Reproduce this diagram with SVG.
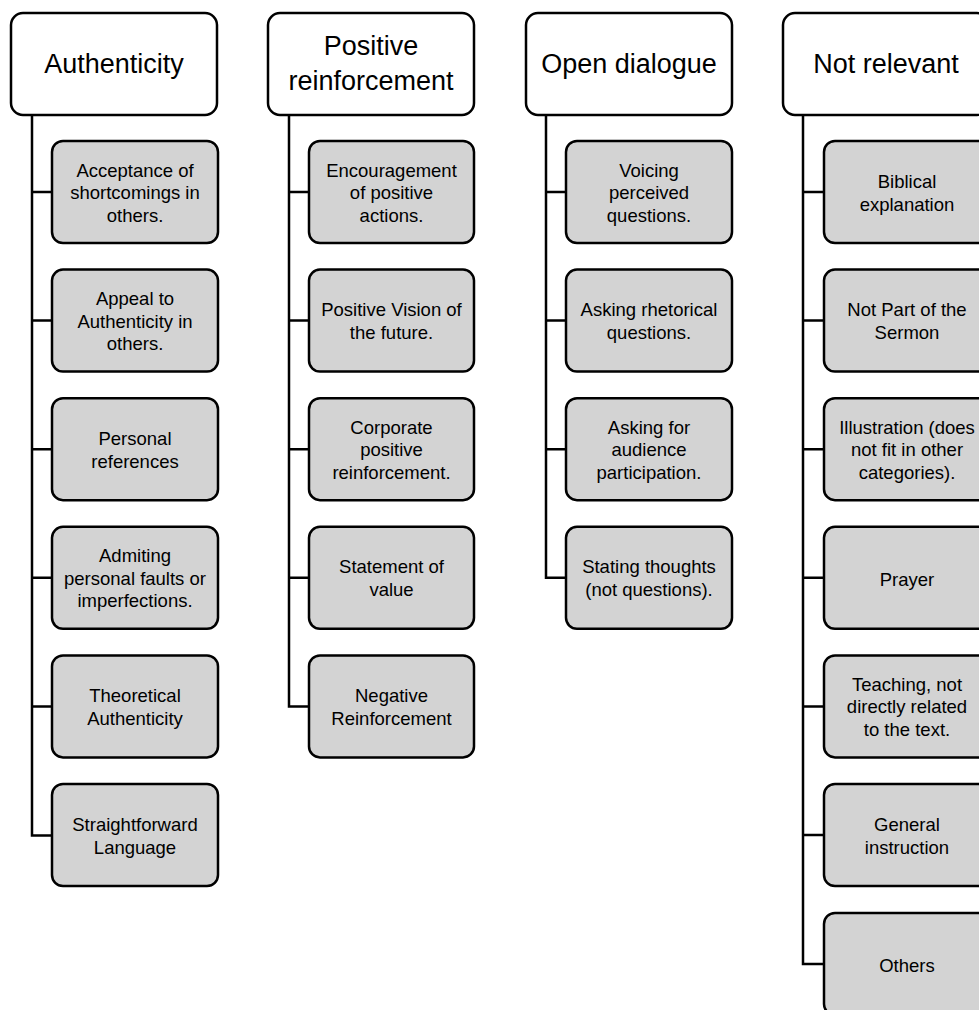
<svg xmlns="http://www.w3.org/2000/svg" width="979" height="1010" viewBox="0 0 979 1010">
<style>
.hdr{fill:#ffffff;stroke:#000;stroke-width:2.5}
.box{fill:#d3d3d3;stroke:#000;stroke-width:2.5}
.conn{fill:none;stroke:#000;stroke-width:2.5}
.ht{font-family:"Liberation Sans",Arial,sans-serif;font-size:27px;fill:#000;text-anchor:middle}
.ct{font-family:"Liberation Sans",Arial,sans-serif;font-size:18.5px;fill:#000;text-anchor:middle}
</style>
<rect width="979" height="1010" fill="#ffffff"/>
<g id="connectors">
<path class="conn" d="M32,115 V835.5 H52 M32,192 H52 M32,320.6 H52 M32,449.2 H52 M32,577.8 H52 M32,706.4 H52"/>
<path class="conn" d="M289,115 V706.4 H309 M289,192 H309 M289,320.6 H309 M289,449.2 H309 M289,577.8 H309"/>
<path class="conn" d="M546,115 V577.8 H566 M546,192 H566 M546,320.6 H566 M546,449.2 H566"/>
<path class="conn" d="M803,115 V964 H824 M803,192 H824 M803,320.6 H824 M803,449.2 H824 M803,577.8 H824 M803,706.4 H824 M803,835 H824"/>
</g>
<g id="h-authenticity"><rect class="hdr" x="11" y="13" width="206" height="102" rx="12"/><text class="ht" x="114" y="73">Authenticity</text></g>
<g id="h-positive"><rect class="hdr" x="268" y="13" width="206" height="102" rx="12"/><text class="ht" x="371"><tspan x="371" y="55">Positive</tspan><tspan x="371" y="90">reinforcement</tspan></text></g>
<g id="h-open"><rect class="hdr" x="526" y="13" width="206" height="102" rx="12"/><text class="ht" x="629" y="73">Open dialogue</text></g>
<g id="h-notrelevant"><rect class="hdr" x="783" y="13" width="206" height="102" rx="12"/><text class="ht" x="886" y="73">Not relevant</text></g>

<g id="a1"><rect class="box" x="52" y="141" width="166" height="102" rx="11"/><text class="ct"><tspan x="135" y="176.5">Acceptance of</tspan><tspan x="135" y="199">shortcomings in</tspan><tspan x="135" y="221.5">others.</tspan></text></g>
<g id="a2"><rect class="box" x="52" y="269.6" width="166" height="102" rx="11"/><text class="ct"><tspan x="135" y="305.1">Appeal to</tspan><tspan x="135" y="327.6">Authenticity in</tspan><tspan x="135" y="350.1">others.</tspan></text></g>
<g id="a3"><rect class="box" x="52" y="398.2" width="166" height="102" rx="11"/><text class="ct"><tspan x="135" y="444.7">Personal</tspan><tspan x="135" y="467.7">references</tspan></text></g>
<g id="a4"><rect class="box" x="52" y="526.8" width="166" height="102" rx="11"/><text class="ct"><tspan x="135" y="562.3">Admiting</tspan><tspan x="135" y="584.8">personal faults or</tspan><tspan x="135" y="607.3">imperfections.</tspan></text></g>
<g id="a5"><rect class="box" x="52" y="655.4" width="166" height="102" rx="11"/><text class="ct"><tspan x="135" y="701.9">Theoretical</tspan><tspan x="135" y="724.9">Authenticity</tspan></text></g>
<g id="a6"><rect class="box" x="52" y="784" width="166" height="102" rx="11"/><text class="ct"><tspan x="135" y="830.5">Straightforward</tspan><tspan x="135" y="853.5">Language</tspan></text></g>

<g id="p1"><rect class="box" x="309" y="141" width="165" height="102" rx="11"/><text class="ct"><tspan x="391.5" y="176.5">Encouragement</tspan><tspan x="391.5" y="199">of positive</tspan><tspan x="391.5" y="221.5">actions.</tspan></text></g>
<g id="p2"><rect class="box" x="309" y="269.6" width="165" height="102" rx="11"/><text class="ct"><tspan x="391.5" y="316.1">Positive Vision of</tspan><tspan x="391.5" y="339.1">the future.</tspan></text></g>
<g id="p3"><rect class="box" x="309" y="398.2" width="165" height="102" rx="11"/><text class="ct"><tspan x="391.5" y="433.7">Corporate</tspan><tspan x="391.5" y="456.2">positive</tspan><tspan x="391.5" y="478.7">reinforcement.</tspan></text></g>
<g id="p4"><rect class="box" x="309" y="526.8" width="165" height="102" rx="11"/><text class="ct"><tspan x="391.5" y="573.3">Statement of</tspan><tspan x="391.5" y="596.3">value</tspan></text></g>
<g id="p5"><rect class="box" x="309" y="655.4" width="165" height="102" rx="11"/><text class="ct"><tspan x="391.5" y="701.9">Negative</tspan><tspan x="391.5" y="724.9">Reinforcement</tspan></text></g>

<g id="o1"><rect class="box" x="566" y="141" width="166" height="102" rx="11"/><text class="ct"><tspan x="649" y="176.5">Voicing</tspan><tspan x="649" y="199">perceived</tspan><tspan x="649" y="221.5">questions.</tspan></text></g>
<g id="o2"><rect class="box" x="566" y="269.6" width="166" height="102" rx="11"/><text class="ct"><tspan x="649" y="316.1">Asking rhetorical</tspan><tspan x="649" y="339.1">questions.</tspan></text></g>
<g id="o3"><rect class="box" x="566" y="398.2" width="166" height="102" rx="11"/><text class="ct"><tspan x="649" y="433.7">Asking for</tspan><tspan x="649" y="456.2">audience</tspan><tspan x="649" y="478.7">participation.</tspan></text></g>
<g id="o4"><rect class="box" x="566" y="526.8" width="166" height="102" rx="11"/><text class="ct"><tspan x="649" y="573.3">Stating thoughts</tspan><tspan x="649" y="596.3">(not questions).</tspan></text></g>

<g id="n1"><rect class="box" x="824" y="141" width="166" height="102" rx="11"/><text class="ct"><tspan x="907" y="187.5">Biblical</tspan><tspan x="907" y="210.5">explanation</tspan></text></g>
<g id="n2"><rect class="box" x="824" y="269.6" width="166" height="102" rx="11"/><text class="ct"><tspan x="907" y="316.1">Not Part of the</tspan><tspan x="907" y="339.1">Sermon</tspan></text></g>
<g id="n3"><rect class="box" x="824" y="398.2" width="166" height="102" rx="11"/><text class="ct"><tspan x="907" y="433.7">Illustration (does</tspan><tspan x="907" y="456.2">not fit in other</tspan><tspan x="907" y="478.7">categories).</tspan></text></g>
<g id="n4"><rect class="box" x="824" y="526.8" width="166" height="102" rx="11"/><text class="ct" x="907" y="585.8">Prayer</text></g>
<g id="n5"><rect class="box" x="824" y="655.4" width="166" height="102" rx="11"/><text class="ct"><tspan x="907" y="690.9">Teaching, not</tspan><tspan x="907" y="713.4">directly related</tspan><tspan x="907" y="735.9">to the text.</tspan></text></g>
<g id="n6"><rect class="box" x="824" y="784" width="166" height="102" rx="11"/><text class="ct"><tspan x="907" y="830.5">General</tspan><tspan x="907" y="853.5">instruction</tspan></text></g>
<g id="n7"><rect class="box" x="824" y="913" width="166" height="102" rx="11"/><text class="ct" x="907" y="972">Others</text></g>
</svg>
